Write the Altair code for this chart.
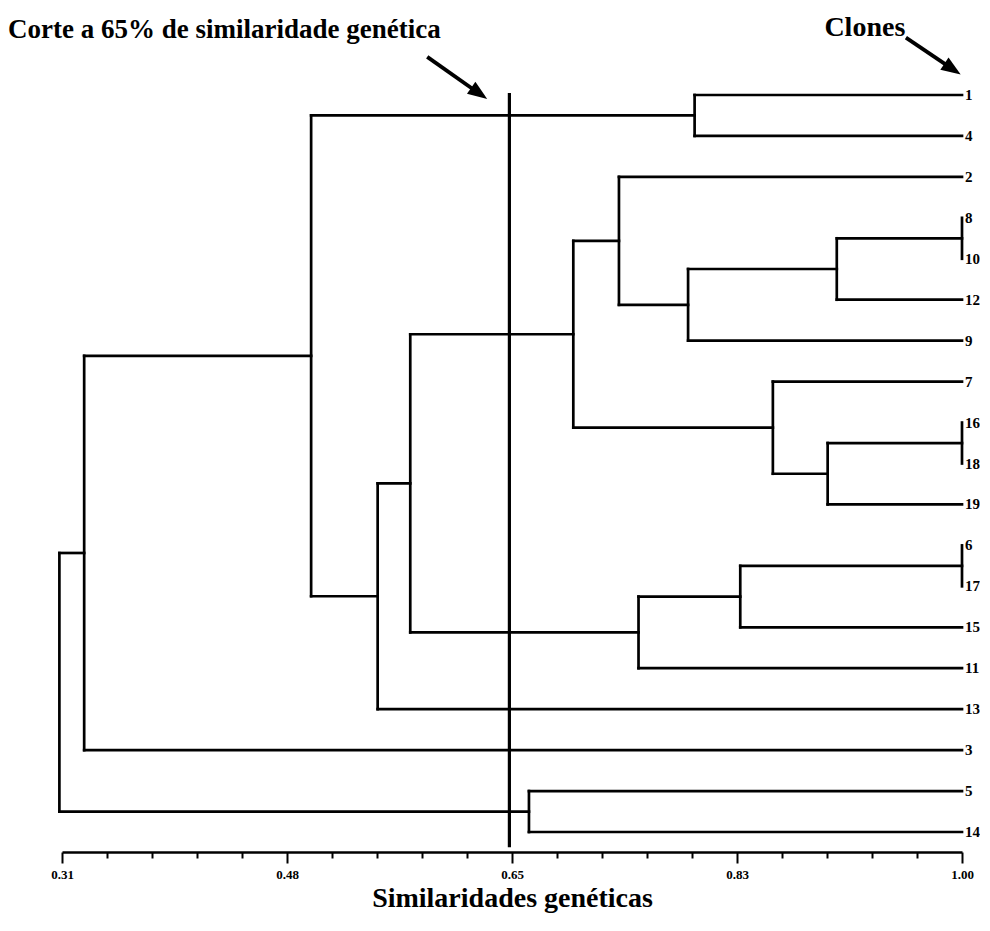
import math
import altair as alt
import pandas as pd

# ---------------- data ----------------
leaf_order = ["1", "4", "2", "8", "10", "12", "9", "7", "16", "18", "19",
              "6", "17", "15", "11", "13", "3", "5", "14"]

node_names = ["P1", "P2", "P3", "M", "H", "G", "F", "J", "I", "E",
              "L", "K", "D", "C", "B", "A", "N", "R"]
node_left = ["8", "16", "6", "1", "P1", "H", "2", "P2", "7", "F",
             "P3", "L", "E", "D", "M", "B", "5", "A"]
node_right = ["10", "18", "17", "4", "12", "9", "G", "19", "J", "I",
              "15", "11", "K", "13", "C", "3", "14", "N"]
node_similarity = [1.00, 1.00, 1.00, 0.795, 0.904, 0.790, 0.737, 0.897, 0.855, 0.702,
                   0.830, 0.752, 0.577, 0.552, 0.501, 0.327, 0.668, 0.308]

cut_value = 0.653

minor_ticks = [round(0.31 + 0.0345 * k, 4) for k in range(21)]
major_ticks = [0.31, 0.4825, 0.655, 0.8275, 1.0]
major_labels = ["0.31", "0.48", "0.65", "0.83", "1.00"]

title_text = "Corte a 65% de similaridade genética"
clones_text = "Clones"
axis_title = "Similaridades genéticas"

# annotation anchors in data units (similarity, row)
arrow_start_x = [0.590, 0.957]
arrow_start_y = [-0.93, -1.40]
arrow_tip_x = [0.636, 0.999]
arrow_tip_y = [0.10, -0.50]

# ---------------- layout ----------------
W, H = 900, 737
X_DOM = [0.31, 1.0]
Y_DOM = [0, 18]
FONT = "Liberation Serif"

px_x = W / (X_DOM[1] - X_DOM[0])
px_y = H / (Y_DOM[1] - Y_DOM[0])

xpos = {lf: 1.0 for lf in leaf_order}
ypos = {lf: float(i) for i, lf in enumerate(leaf_order)}
segs = []
for name, l, r, s in zip(node_names, node_left, node_right, node_similarity):
    segs.append({"x": s, "x2": s, "y": ypos[l], "y2": ypos[r]})
    for c in (l, r):
        if abs(xpos[c] - s) > 1e-9:
            segs.append({"x": xpos[c], "x2": s, "y": ypos[c], "y2": ypos[c]})
    xpos[name] = s
    ypos[name] = (ypos[l] + ypos[r]) / 2
seg_df = pd.DataFrame(segs)

leaf_df = pd.DataFrame({"label": leaf_order, "x": [1.0] * len(leaf_order),
                        "y": [float(i) for i in range(len(leaf_order))]})

xs = alt.Scale(domain=X_DOM, nice=False, zero=False)
ys = alt.Scale(domain=Y_DOM, nice=False, zero=False, reverse=True)

major_test = "indexof(" + str(major_ticks) + ", datum.value) >= 0"
label_expr = ""
for v, t in zip(major_ticks, major_labels):
    label_expr += f"datum.value == {v} ? '{t}' : "
label_expr += "''"

x_axis = alt.Axis(
    values=minor_ticks, labelExpr=label_expr, offset=20, grid=False,
    domainColor="black", domainWidth=2.5, tickColor="black", tickWidth=2,
    tickSize={"condition": {"test": major_test, "value": 11}, "value": 6},
    labelFont=FONT, labelFontWeight="bold", labelFontSize=13, labelColor="black",
    labelPadding=5, labelFlush=False,
    title=axis_title, titleFont=FONT, titleFontSize=28, titleFontWeight="bold",
    titleColor="black", titlePadding=3,
)

tree = alt.Chart(seg_df).mark_rule(color="black", strokeWidth=2.7, strokeCap="square").encode(
    x=alt.X("x:Q", scale=xs, axis=x_axis),
    x2="x2:Q",
    y=alt.Y("y:Q", scale=ys, axis=None),
    y2="y2:Q",
)

cut_df = pd.DataFrame({"x": [cut_value], "y": [-0.05], "y2": [18.37]})
cut = alt.Chart(cut_df).mark_rule(color="black", strokeWidth=3.2).encode(
    x=alt.X("x:Q", scale=xs), y=alt.Y("y:Q", scale=ys), y2="y2:Q"
)

labels = alt.Chart(leaf_df).mark_text(
    align="left", baseline="middle", dx=3, font=FONT, fontWeight="bold",
    fontSize=15, color="black"
).encode(x=alt.X("x:Q", scale=xs), y=alt.Y("y:Q", scale=ys), text="label:N")

t1 = alt.Chart(pd.DataFrame({"x": [0.2686], "y": [-1.39], "t": [title_text]})).mark_text(
    align="left", baseline="alphabetic", font=FONT, fontWeight="bold", fontSize=27, color="black"
).encode(x=alt.X("x:Q", scale=xs), y=alt.Y("y:Q", scale=ys), text="t:N")

t2 = alt.Chart(pd.DataFrame({"x": [0.8945], "y": [-1.45], "t": [clones_text]})).mark_text(
    align="left", baseline="alphabetic", font=FONT, fontWeight="bold", fontSize=28, color="black"
).encode(x=alt.X("x:Q", scale=xs), y=alt.Y("y:Q", scale=ys), text="t:N")

layers = [tree, cut, labels, t1, t2]
head_len = 20.0
for sx, sy, tx, ty in zip(arrow_start_x, arrow_start_y, arrow_tip_x, arrow_tip_y):
    dxp = (tx - sx) * px_x
    dyp = (ty - sy) * px_y
    L = math.hypot(dxp, dyp)
    ang = math.degrees(math.atan2(dxp, -dyp)) % 360
    f = (L - head_len * 0.6) / L
    ex = sx + (tx - sx) * f
    ey = sy + (ty - sy) * f
    line_df = pd.DataFrame({"x": [sx], "x2": [ex], "y": [sy], "y2": [ey]})
    layers.append(alt.Chart(line_df).mark_rule(color="black", strokeWidth=3.8).encode(
        x=alt.X("x:Q", scale=xs), x2="x2:Q", y=alt.Y("y:Q", scale=ys), y2="y2:Q"))
    head_df = pd.DataFrame({"x": [tx], "y": [ty]})
    layers.append(alt.Chart(head_df).mark_point(
        shape="M0,0 L0.6,1.6 L-0.6,1.6 Z", filled=True, color="black", opacity=1,
        size=600, angle=ang, strokeWidth=0
    ).encode(x=alt.X("x:Q", scale=xs), y=alt.Y("y:Q", scale=ys)))

chart = alt.layer(*layers).properties(
    width=W, height=H,
    autosize=alt.AutoSizeParams(type="none"),
    padding={"left": 54, "top": 87, "right": 18, "bottom": 86},
    background="white",
).configure_view(strokeWidth=0)

chart.save("out.html", embed_options={"renderer": "svg", "actions": False})
